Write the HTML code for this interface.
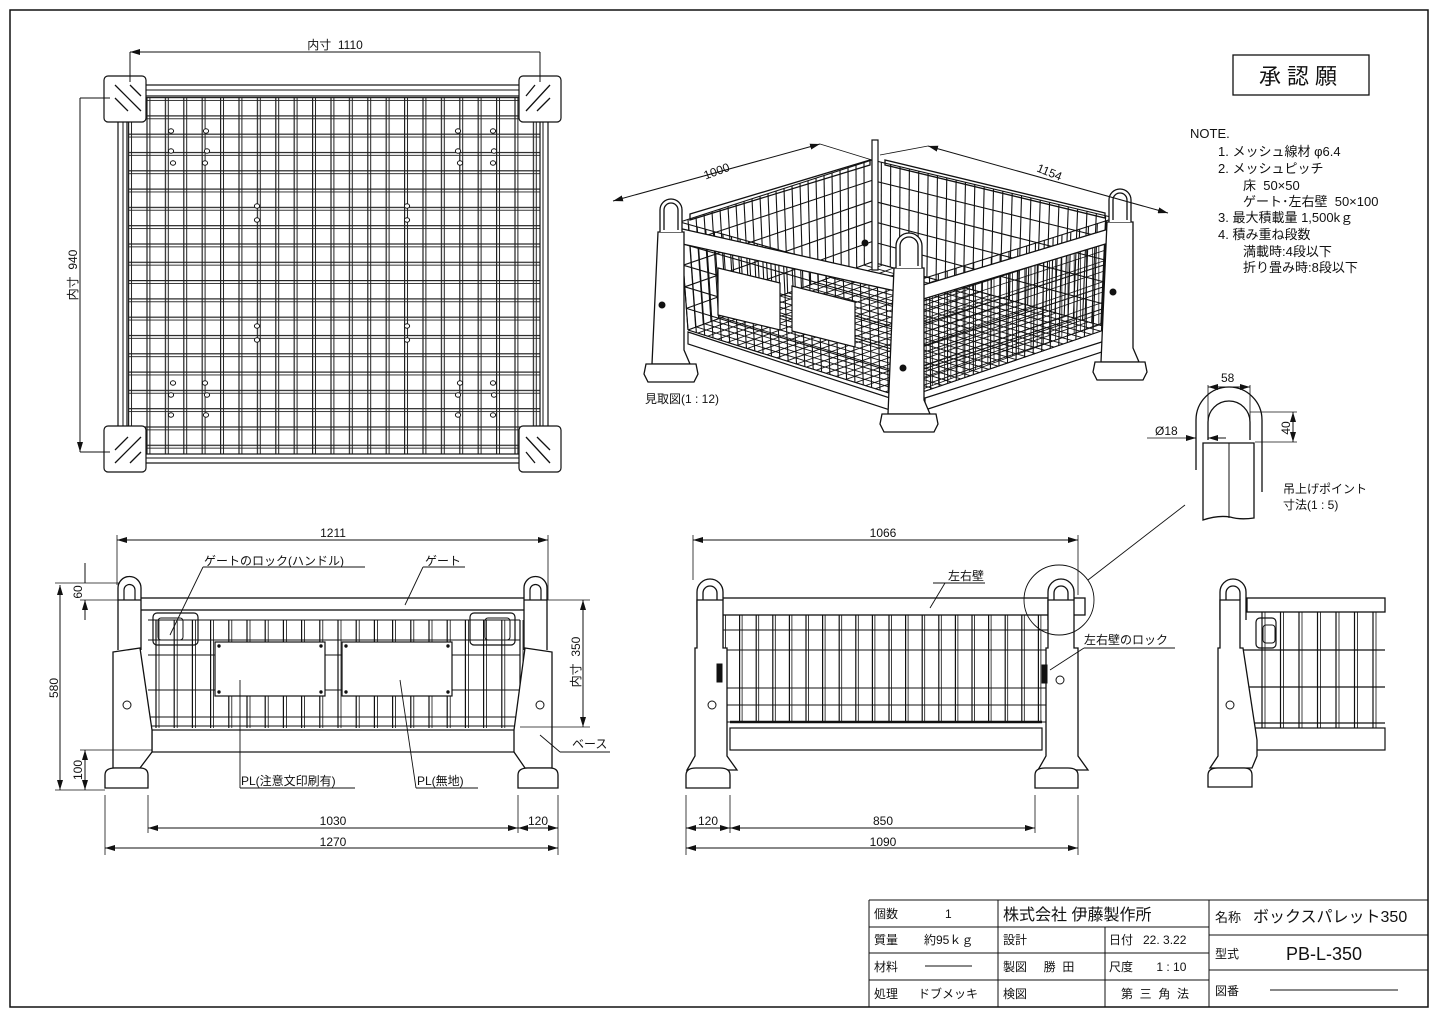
<!DOCTYPE html>
<html><head><meta charset="utf-8"><style>
html,body{margin:0;padding:0;background:#fff}
svg{display:block}
text{font-family:"Liberation Sans","Noto Sans CJK JP",sans-serif;fill:#111;white-space:pre}
</style></head><body>
<svg id="s" width="1437" height="1023" viewBox="0 0 1437 1023" xmlns="http://www.w3.org/2000/svg" xml:space="preserve">
<defs>
<pattern id="tg" x="128" y="97" width="18.4" height="18.3" patternUnits="userSpaceOnUse">
<rect x="0" y="0" width="1.2" height="18.3" fill="#222"/><rect x="3" y="0" width="1" height="18.3" fill="#222"/>
<rect x="0" y="0" width="18.4" height="1.2" fill="#222"/><rect x="0" y="3" width="18.4" height="0.9" fill="#222"/>
</pattern>
<marker id="a" viewBox="0 0 10 6" refX="10" refY="3" markerWidth="10" markerHeight="6" orient="auto-start-reverse" markerUnits="userSpaceOnUse"><path d="M0,0L10,3L0,6z" fill="#111"/></marker>
</defs>
<g fill="none" stroke="#111" stroke-width="1">
<rect x="10" y="10" width="1418" height="997" stroke-width="1.5"/>
<rect x="1233" y="55" width="136" height="40" stroke-width="1.3"/>
</g>
<text x="1301" y="84" font-size="22" text-anchor="middle" letter-spacing="6">承認願</text>
<g font-size="13">
<text x="1190" y="138">NOTE.</text>
<text x="1218" y="156">1. メッシュ線材 φ6.4</text>
<text x="1218" y="173">2. メッシュピッチ</text>
<text x="1243" y="190">床  50×50</text>
<text x="1243" y="206">ゲート･左右壁  50×100</text>
<text x="1218" y="222">3. 最大積載量 1,500kｇ</text>
<text x="1218" y="239">4. 積み重ね段数</text>
<text x="1243" y="256">満載時:4段以下</text>
<text x="1243" y="272">折り畳み時:8段以下</text>
</g>

<g id="top" fill="none" stroke="#111">
<rect x="128" y="97" width="412" height="357" fill="url(#tg)" stroke="none"/>
<rect x="118" y="85" width="430" height="378" stroke-width="1.2"/>
<rect x="123" y="90" width="420" height="368"/>
<rect x="127" y="96" width="413" height="358" stroke-width="1.2"/>
<g fill="#fff" stroke-width="1.2">
<rect x="104" y="76" width="42" height="46" rx="4"/><rect x="519" y="76" width="42" height="46" rx="4"/>
<rect x="104" y="426" width="42" height="46" rx="4"/><rect x="519" y="426" width="42" height="46" rx="4"/>
</g>
<path d="M115,85L141,111M115,98L128,111M130,85L141,96M550,85L526,111M550,98L537,111M535,85L526,96M115,463L141,437M115,450L128,437M130,463L141,452M550,463L526,437M550,450L537,437M535,463L526,452" stroke-width="1.3"/>
<path d="M130,52V82M540,52V82M80,98H110M80,452H110"/>
<path d="M130,52H540M80,98V452" marker-start="url(#a)" marker-end="url(#a)"/>
</g>
<text x="335" y="49" font-size="12" text-anchor="middle">内寸  1110</text>
<text transform="translate(77,275) rotate(-90)" font-size="12" text-anchor="middle">内寸  940</text>
<g id="holes" fill="#fff" stroke="#111"></g>

<g id="persp" fill="none" stroke="#111"></g>
<g font-size="12">
<text transform="translate(718,175) rotate(-20)" text-anchor="middle">1000</text>
<text transform="translate(1048,176) rotate(22)" text-anchor="middle">1154</text>
<text x="645" y="403">見取図(1 : 12)</text>
</g>

<g id="front" fill="none" stroke="#111"></g>
<g font-size="12">
<text x="333" y="537" text-anchor="middle">1211</text>
<text x="204" y="565">ゲートのロック(ハンドル)</text>
<text x="425" y="565">ゲート</text>
<text transform="translate(82,592) rotate(-90)" text-anchor="middle">60</text>
<text transform="translate(58,688) rotate(-90)" text-anchor="middle">580</text>
<text transform="translate(82,770) rotate(-90)" text-anchor="middle">100</text>
<text transform="translate(580,662) rotate(-90)" text-anchor="middle">内寸  350</text>
<text x="572" y="748">ベース</text>
<text x="241" y="785">PL(注意文印刷有)</text>
<text x="417" y="785">PL(無地)</text>
<text x="333" y="825" text-anchor="middle">1030</text>
<text x="538" y="825" text-anchor="middle">120</text>
<text x="333" y="846" text-anchor="middle">1270</text>
</g>

<g id="side" fill="none" stroke="#111"></g>
<g font-size="12">
<text x="883" y="537" text-anchor="middle">1066</text>
<text x="948" y="580">左右壁</text>
<text x="1084" y="644">左右壁のロック</text>
<text x="708" y="825" text-anchor="middle">120</text>
<text x="883" y="825" text-anchor="middle">850</text>
<text x="883" y="846" text-anchor="middle">1090</text>
</g>

<g id="rp" fill="none" stroke="#111"></g>
<g font-size="12">
<text x="1221" y="382">58</text>
<text x="1155" y="435">Ø18</text>
<text transform="translate(1290,428) rotate(-90)" text-anchor="middle">40</text>
<text x="1283" y="493">吊上げポイント</text>
<text x="1283" y="509">寸法(1 : 5)</text>
</g>

<g fill="none" stroke="#111" stroke-width="1">
<path d="M869,900H1428M869,927H1209M869,953H1209M869,980H1209M1209,935H1428M1209,970H1428M869,900V1007M998,900V1007M1105,927V1007M1209,900V1007" />
<path d="M925,966H972M1270,990H1398"/>
</g>
<g font-size="12">
<text x="874" y="918">個数</text><text x="945" y="918">1</text>
<text x="1003" y="920" font-size="16">株式会社 伊藤製作所</text>
<text x="1215" y="922" font-size="13">名称</text><text x="1253" y="922" font-size="16">ボックスパレット350</text>
<text x="874" y="944">質量</text><text x="924" y="944">約95ｋｇ</text>
<text x="1003" y="944">設計</text>
<text x="1109" y="944">日付   22. 3.22</text>
<text x="1215" y="958">型式</text><text x="1286" y="960" font-size="18">PB-L-350</text>
<text x="874" y="971">材料</text>
<text x="1003" y="971">製図     勝  田</text>
<text x="1109" y="971">尺度       1 : 10</text>
<text x="874" y="998">処理</text><text x="918" y="998">ドブメッキ</text>
<text x="1003" y="998">検図</text>
<text x="1121" y="998">第  三  角  法</text>
<text x="1215" y="995">図番</text>
</g>
</svg>
<script>
const NS="http://www.w3.org/2000/svg";
function el(g,tag,at){const e=document.createElementNS(NS,tag);for(const k in at)e.setAttribute(k,at[k]);g.appendChild(e);return e;}
function L(g,x1,y1,x2,y2,w){el(g,'line',{x1,y1,x2,y2,'stroke-width':w||1});}
function P(g,pts,fill,w){el(g,'polygon',{points:pts.map(p=>p.join(',')).join(' '),fill:fill||'none','stroke-width':w||1});}
function R(g,x,y,w,h,fill,sw,rx){el(g,'rect',{x,y,width:w,height:h,fill:fill||'none','stroke-width':sw||1,rx:rx||0});}
function lerp(a,b,t){return [a[0]+(b[0]-a[0])*t,a[1]+(b[1]-a[1])*t];}
function grid(g,p00,p10,p01,p11,nu,nv,w){for(let i=0;i<=nu;i++){const t=i/nu;const a=lerp(p00,p10,t),b=lerp(p01,p11,t);L(g,a[0],a[1],b[0],b[1],w);}
 for(let j=0;j<=nv;j++){const t=j/nv;const a=lerp(p00,p01,t),b=lerp(p10,p11,t);L(g,a[0],a[1],b[0],b[1],w);}}
const H=document.getElementById('holes');
[[171,131],[206,131],[171,151],[207,151],[173,163],[205,163],[458,131],[493,131],[458,151],[494,151],[460,163],[493,163],
 [173,383],[205,383],[171,395],[207,395],[171,415],[206,415],[460,383],[493,383],[458,395],[494,395],[458,415],[493,415],
 [257,206],[257,220],[407,206],[407,220],[257,326],[257,340],[407,326],[407,340]].forEach(p=>el(H,'ellipse',{cx:p[0],cy:p[1],rx:2.6,ry:2.2}));
const G=document.getElementById('persp');
const LT=[680,222],BT=[872,160],RT=[1115,218],FT=[903,285];
const LB=[688,330],BB=[872,262],RB=[1110,328],FB=[905,398];
grid(G,LB,FB,BB,RB,22,22,0.9);
grid(G,BT,LT,BB,LB,24,5,1.1);
grid(G,BT,RT,BB,RB,26,5,1.1);
grid(G,LT,FT,LB,FB,26,5,1.1);
grid(G,FT,RT,FB,RB,24,5,1.1);
grid(G,[920,300],[1105,240],[920,390],[1105,322],30,8,0.8);
P(G,[[678,228],[900,278],[900,292],[678,243]],'#fff',1.3);
P(G,[[920,286],[1112,228],[1112,242],[920,300]],'#fff',1.3);
P(G,[[690,214],[870,160],[870,165],[690,220]],'none',1.3);
P(G,[[885,160],[1105,213],[1105,218],[885,165]],'none',1.3);
P(G,[[688,332],[890,398],[890,410],[688,344]],'#fff',1.2);
P(G,[[925,398],[1108,340],[1108,350],[925,410]],'#fff',1.2);
P(G,[[718,268],[780,283],[780,330],[718,315]],'#fff',1.2);
P(G,[[792,286],[855,302],[855,347],[792,331]],'#fff',1.2);
function post(x,y,h,w){P(G,[[x,y],[x+w,y],[x+w,y+h],[x+w+6,y+h+14],[x-6,y+h+14]],'#fff',1.3);
 el(G,'path',{d:`M${x+2},${y}V${y-22}A${w/2-2},${w/2-2} 0 0 1 ${x+w-2},${y-22}V${y}M${x+6},${y-2}V${y-22}A${w/2-6},${w/2-6} 0 0 1 ${x+w-6},${y-22}V${y-2}`,fill:'#fff','stroke-width':1.3});
 P(G,[[x-12,y+h+14],[x+w+12,y+h+14],[x+w+14,y+h+24],[x+w+10,y+h+32],[x-10,y+h+32],[x-14,y+h+24]],'#fff',1.3);}
post(658,232,118,26);post(1107,222,126,26);post(894,268,132,30);
R(G,872,140,6,130,'#fff',1.2);
el(G,'circle',{cx:662,cy:305,r:3,fill:'#111'});el(G,'circle',{cx:1113,cy:292,r:3,fill:'#111'});el(G,'circle',{cx:903,cy:368,r:3,fill:'#111'});
el(G,'circle',{cx:865,cy:243,r:3,fill:'#111'});
el(G,'path',{d:'M613,201L820,144','marker-start':'url(#a)','marker-end':'url(#a)'});
el(G,'path',{d:'M928,146L1168,213','marker-start':'url(#a)','marker-end':'url(#a)'});
L(G,820,144,872,160,0.8);L(G,880,155,928,146,0.8);

const F=document.getElementById('front');
for(let i=0;i<21;i++){const x=156+i*18.2;L(F,x,620,x,728,1.2);L(F,x+3,620,x+3,728,0.8);}
[620,640,655,690,717,726].forEach(y=>{L(F,148,y,520,y,1);});
R(F,140,598,385,12,'#fff',1.3);
R(F,152,730,364,22,'#fff',1.2);
R(F,215,642,110,54,'#fff',1.2);R(F,342,642,110,54,'#fff',1.2);
[[219,646],[321,646],[219,692],[321,692],[346,646],[448,646],[346,692],[448,692]].forEach(p=>el(F,'circle',{cx:p[0],cy:p[1],r:1.2,fill:'#111'}));
R(F,153,613,45,32,'none',1.2,4);R(F,158,618,25,22,'none',1,3);R(F,470,613,45,32,'none',1.2,4);R(F,485,618,25,22,'none',1,3);
// left post
el(F,'path',{d:'M118,650V588A11.5,11.5 0 0 1 141,588V650',fill:'#fff','stroke-width':1.3});
el(F,'path',{d:'M124,600V590A5.5,5.5 0 0 1 135,590V600','stroke-width':1.2});L(F,118,600,141,600,1.2);
P(F,[[113,652],[140,648],[152,730],[152,752],[140,768],[113,768]],'#fff',1.3);
// right post
el(F,'path',{d:'M524,650V588A11.5,11.5 0 0 1 547,588V650',fill:'#fff','stroke-width':1.3});
el(F,'path',{d:'M530,600V590A5.5,5.5 0 0 1 541,590V600','stroke-width':1.2});L(F,524,600,547,600,1.2);
P(F,[[525,648],[552,652],[552,768],[525,768],[514,752],[514,730]],'#fff',1.3);
el(F,'path',{d:'M105,788V775Q105,768 115,768H140Q148,768 148,775V788ZM518,788V775Q518,768 528,768H550Q558,768 558,775V788Z',fill:'#fff','stroke-width':1.3});
el(F,'circle',{cx:127,cy:705,r:4});el(F,'circle',{cx:540,cy:705,r:4});
el(F,'path',{d:'M117,540H548','marker-start':'url(#a)','marker-end':'url(#a)'});L(F,117,535,117,585,0.8);L(F,548,535,548,600,0.8);
el(F,'path',{d:'M60,585V790','marker-start':'url(#a)','marker-end':'url(#a)'});L(F,55,583,120,583,0.8);L(F,55,790,105,790,0.8);
el(F,'path',{d:'M85,563V583M85,620V600','marker-end':'url(#a)'});L(F,80,600,140,600,0.8);
el(F,'path',{d:'M85,750V790','marker-start':'url(#a)','marker-end':'url(#a)'});L(F,80,750,152,750,0.8);
el(F,'path',{d:'M583,600V727','marker-start':'url(#a)','marker-end':'url(#a)'});L(F,525,600,590,600,0.8);L(F,520,727,590,727,0.8);
el(F,'path',{d:'M148,828H518','marker-start':'url(#a)','marker-end':'url(#a)'});el(F,'path',{d:'M518,828H558','marker-start':'url(#a)','marker-end':'url(#a)'});
el(F,'path',{d:'M105,848H558','marker-start':'url(#a)','marker-end':'url(#a)'});
[[105,795,855],[148,795,833],[518,795,833],[558,795,855]].forEach(v=>L(F,v[0],v[1],v[0],v[2],0.8));
L(F,203,567,365,567,0.9);L(F,203,567,170,635,0.9);L(F,423,567,465,567,0.9);L(F,423,567,405,605,0.9);
L(F,560,752,610,752,0.9);L(F,560,752,540,735,0.9);
L(F,240,788,355,788,0.9);L(F,240,788,240,680,0.9);L(F,416,788,478,788,0.9);L(F,416,788,400,680,0.9);

const S=document.getElementById('side');
for(let i=0;i<20;i++){const x=723+i*16.6;L(S,x,615,x,722,1.2);L(S,x+2.5,615,x+2.5,722,0.8);}
[630,650,688,705,722].forEach(y=>L(S,715,y,1048,y,1));
R(S,712,598,373,17,'#fff',1.3);
R(S,730,728,312,22,'#fff',1.2);
L(S,730,722,1042,722,2.5);
function spost(x){el(S,'path',{d:`M${x},620V592A13,13 0 0 1 ${x+26},592V600M${x+6},600V593A7,7 0 0 1 ${x+20},593V600`,fill:'#fff','stroke-width':1.3});
 P(S,[[x,600],[x+26,600],[x+26,648],[x+30,648],[x+30,756],[x+40,770],[x-10,770],[x-2,756],[x-2,648],[x,648]],'#fff',1.3);}
spost(697);spost(1048);
el(S,'path',{d:'M686,788V775Q686,768 696,768H720Q730,768 730,775V788ZM1035,788V775Q1035,768 1045,768H1068Q1078,768 1078,775V788Z',fill:'#fff','stroke-width':1.3});
el(S,'circle',{cx:712,cy:705,r:4});el(S,'circle',{cx:1060,cy:680,r:4});
R(S,717,664,5,18,'#111');R(S,1042,665,5,18,'#111');
el(S,'circle',{cx:1059,cy:600,r:35,'stroke-width':0.9});
L(S,1088,580,1185,505,0.9);
L(S,1084,648,1175,648,0.9);L(S,1084,648,1050,670,0.9);
L(S,933,583,985,583,0.9);L(S,945,583,930,608,0.9);
el(S,'path',{d:'M693,540H1078','marker-start':'url(#a)','marker-end':'url(#a)'});L(S,693,535,693,580,0.8);L(S,1078,535,1078,595,0.8);
el(S,'path',{d:'M686,828H730','marker-start':'url(#a)','marker-end':'url(#a)'});el(S,'path',{d:'M730,828H1035','marker-start':'url(#a)','marker-end':'url(#a)'});
el(S,'path',{d:'M686,848H1078','marker-start':'url(#a)','marker-end':'url(#a)'});
[[686,795,855],[730,795,833],[1035,795,833],[1078,795,855]].forEach(v=>L(S,v[0],v[1],v[0],v[2],0.8));

const RP=document.getElementById('rp');
for(let i=0;i<7;i++){const x=1262+i*18.5;L(RP,x,612,x,728,1.2);L(RP,x+3,612,x+3,728,0.8);}
[650,687,723].forEach(y=>L(RP,1240,y,1385,y,1.3));
R(RP,1247,598,138,14,'#fff',1.3);R(RP,1255,728,130,22,'#fff',1.2);
R(RP,1256,618,20,30,'none',1.2,4);R(RP,1263,625,12,18,'none',1,3);
el(RP,'path',{d:'M1220,620V592A13,13 0 0 1 1246,592V620M1226,600V593A7,7 0 0 1 1240,593V600',fill:'#fff','stroke-width':1.3});
P(RP,[[1220,600],[1240,600],[1240,648],[1243,648],[1257,740],[1257,756],[1252,768],[1210,768],[1218,756],[1218,648],[1220,648]],'#fff',1.3);
el(RP,'path',{d:'M1208,787V775Q1208,768 1218,768H1244Q1252,768 1252,775V787Z',fill:'#fff','stroke-width':1.3});
el(RP,'circle',{cx:1230,cy:705,r:4});
el(RP,'path',{d:'M1196,470V420A33,33 0 0 1 1262,420V492M1208,440V422A21,21 0 0 1 1250,422V440','stroke-width':1.3});
el(RP,'path',{d:'M1203,443H1254V518Q1240,520 1230,517Q1218,515 1203,520Z',fill:'#fff','stroke-width':1.3});
L(RP,1229,443,1229,518,1);
L(RP,1208,385,1208,440,0.8);L(RP,1250,385,1250,440,0.8);
el(RP,'path',{d:'M1208,387H1250','marker-start':'url(#a)','marker-end':'url(#a)'});
L(RP,1250,412,1297,412,0.8);L(RP,1255,442,1297,442,0.8);
el(RP,'path',{d:'M1293,412V442','marker-start':'url(#a)','marker-end':'url(#a)'});
L(RP,1147,438,1186,438,0.8);el(RP,'path',{d:'M1186,438H1196','marker-end':'url(#a)'});el(RP,'path',{d:'M1226,438H1208','marker-end':'url(#a)'});
</script>
</body></html>
